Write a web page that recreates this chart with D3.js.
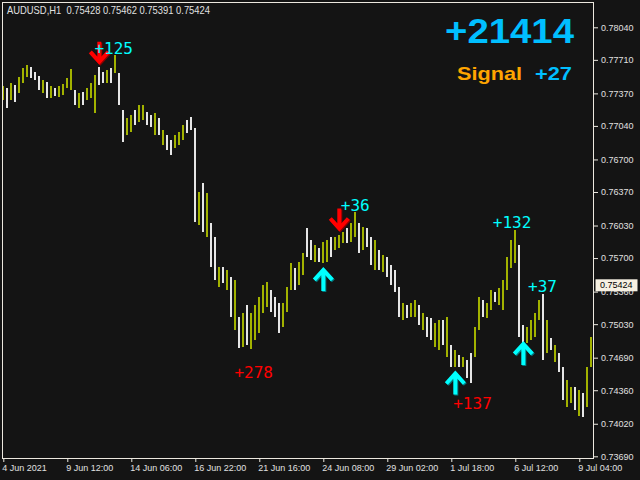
<!DOCTYPE html>
<html><head><meta charset="utf-8">
<script src="https://cdn.jsdelivr.net/npm/d3@7"></script>
<style>html,body{margin:0;padding:0;background:#141414;overflow:hidden}</style>
</head><body><svg id="c" width="640" height="480"></svg>
<script>
// ---------- data ----------
const chartTitle = "AUDUSD,H1  0.75428 0.75462 0.75391 0.75424";
const lastPrice = 0.75424;
const highs = [
0.7744,0.7742,0.7748,0.7745,0.7754,0.7763,0.7766,0.7764,0.7759,0.7755,
0.7751,0.7749,0.7744,0.7742,0.7744,0.7747,0.7753,0.7762,0.7740,0.7737,
0.7738,0.7742,0.7748,0.7756,0.7764,0.7759,0.7761,0.7763,0.7776,0.7758,
0.7720,0.7712,0.7715,0.7720,0.7725,0.7725,0.7718,0.7715,0.7717,0.7712,
0.7700,0.7695,0.7690,0.7695,0.7698,0.7705,0.7710,0.7713,0.7702,0.7637,
0.7646,0.7636,0.7606,0.7591,0.7561,0.7561,0.7558,0.7551,0.7548,0.7510,
0.7514,0.7522,0.7514,0.7522,0.7531,0.7543,0.7546,0.7538,0.7531,0.7524,
0.7524,0.7541,0.7565,0.7560,0.7566,0.7575,0.7601,0.7588,0.7583,0.7580,
0.7586,0.7588,0.7591,0.7591,0.7593,0.7596,0.7601,0.7606,0.7617,0.7606,
0.7602,0.7601,0.7591,0.7588,0.7578,0.7573,0.7571,0.7563,0.7558,0.7541,
0.7524,0.7522,0.7524,0.7527,0.7522,0.7514,0.7510,0.7509,0.7504,0.7507,
0.7507,0.7510,0.7482,0.7477,0.7472,0.7470,0.7467,0.7474,0.7500,0.7531,
0.7527,0.7524,0.7538,0.7536,0.7540,0.7548,0.7571,0.7588,0.7598,0.7583,
0.7502,0.7500,0.7507,0.7514,0.7527,0.7534,0.7507,0.7489,0.7482,0.7474,
0.7460,0.7446,0.7439,0.7439,0.7436,0.7433,0.7460,0.7490];
const lows = [
0.7730,0.7722,0.7730,0.7728,0.7737,0.7748,0.7754,0.7753,0.7751,0.7740,
0.7737,0.7732,0.7732,0.7734,0.7733,0.7735,0.7742,0.7740,0.7725,0.7722,
0.7725,0.7730,0.7732,0.7717,0.7745,0.7748,0.7748,0.7748,0.7758,0.7725,
0.7688,0.7695,0.7698,0.7705,0.7708,0.7710,0.7705,0.7703,0.7695,0.7695,
0.7685,0.7680,0.7675,0.7682,0.7685,0.7690,0.7697,0.7700,0.7607,0.7604,
0.7596,0.7591,0.7561,0.7548,0.7541,0.7545,0.7538,0.7510,0.7497,0.7479,
0.7480,0.7482,0.7478,0.7487,0.7494,0.7514,0.7520,0.7515,0.7510,0.7494,
0.7500,0.7515,0.7538,0.7538,0.7543,0.7553,0.7571,0.7568,0.7566,0.7566,
0.7565,0.7566,0.7571,0.7578,0.7580,0.7585,0.7585,0.7586,0.7591,0.7575,
0.7578,0.7581,0.7563,0.7558,0.7558,0.7556,0.7551,0.7543,0.7536,0.7510,
0.7507,0.7509,0.7510,0.7510,0.7502,0.7497,0.7490,0.7487,0.7480,0.7477,
0.7482,0.7470,0.7460,0.7460,0.7460,0.7460,0.7448,0.7443,0.7470,0.7497,
0.7510,0.7509,0.7517,0.7525,0.7522,0.7517,0.7538,0.7560,0.7565,0.7490,
0.7480,0.7484,0.7487,0.7490,0.7507,0.7467,0.7474,0.7477,0.7465,0.7454,
0.7426,0.7419,0.7423,0.7416,0.7410,0.7409,0.7419,0.7460];
// u = bullish bar, d = bearish bar
const barDir = ("udud"+"uu"+"udd"+"dud"+"uduu"+"uu"+"d"+"uduu"+"ud"+"dud"+"u"+"dd"+"uuduu"+"dd"+"u"+"dudd"+
  "uuudd"+"d"+"udu"+"ddu"+"du"+"dud"+"uduu"+"uuu"+"ddd"+"uuu"+"d"+"uud"+"dudu"+"uduuuduu"+"d"+"ud"+"dud"+
  "ud"+"ddd"+"uduu"+"dudd"+"uudu"+"dudu"+"dd"+"uu"+"duu"+"duu"+"uuu"+"d"+"du"+"uuu"+"d"+"udu"+"ddu"+"udud"+"uu").split("");

const timeLabels = ["4 Jun 2021","9 Jun 12:00","14 Jun 06:00","16 Jun 22:00","21 Jun 16:00","24 Jun 08:00","29 Jun 02:00","1 Jul 18:00","6 Jul 12:00","9 Jul 04:00"];
const timeLabelBars = [0,16,32,48,64,80,96,112,128,144];
const priceTicks = [0.7804,0.7771,0.7737,0.7704,0.7670,0.7637,0.7603,0.7570,0.7536,0.7503,0.7469,0.7436,0.7402,0.7369];

const signalBars = [24, 80, 84, 113, 130];
const signalPrices = [0.7768, 0.7559, 0.7599, 0.7454, 0.7484];
const signalTypes = ["sell","buy","sell","buy","buy"];

const profitTexts = ["+125","+36","+278","+132","+37","+137"];
const profitBars = [27.6, 88, 62.6, 127.2, 134.8, 117.3];
const profitPrices = [0.7777, 0.7618, 0.7448, 0.7600, 0.7536, 0.7417];
const profitKinds = ["win","win","loss","win","win","loss"];

const totalText = "+21414";
const signalLabel = "Signal";
const signalValue = "+27";

// ---------- drawing ----------
const W = 640, H = 480;
const svg = d3.select("#c");
const BG = "#141414", UP = "#a2b200", DOWN = "#e6e6e6", FG = "#e0e0e0";
const CYAN = "#00ffff", RED = "#ff0000", SKY = "#00bfff", ORANGE = "#ffa500";

svg.append("rect").attr("width", W).attr("height", H).attr("fill", BG);

const x = d3.scaleLinear().domain([0, 147]).range([3.3, 3.3 + 4 * 147]);
const y = d3.scaleLinear().domain([0.7369, 0.7804]).range([456.3, 27.3]);

// bars
const idx = d3.range(highs.length);
svg.append("g").selectAll("rect").data(idx).join("rect")
  .attr("x", i => Math.round(x(i) - 1))
  .attr("width", 2)
  .attr("y", i => y(highs[i]))
  .attr("height", i => Math.max(1, y(lows[i]) - y(highs[i])))
  .attr("fill", i => barDir[i] === "u" ? UP : DOWN)
  .attr("shape-rendering", "crispEdges");

// frame
svg.append("rect").attr("x", 2.5).attr("y", 2.5).attr("width", 591).attr("height", 456)
  .attr("fill", "none").attr("stroke", "#ece8df").attr("stroke-width", 1);

// y axis
const yAxis = svg.append("g").attr("transform", "translate(594,0)")
  .call(d3.axisRight(y).tickValues(priceTicks).tickSize(4).tickPadding(3).tickFormat(d3.format(".5f")));
yAxis.select(".domain").remove();
yAxis.selectAll("line").attr("stroke", "#ece8df");
yAxis.selectAll("text").attr("fill", FG).style("font-family", "'Liberation Sans', Arial, sans-serif").style("font-size", "9px");

// x axis
const xAxis = svg.append("g").attr("transform", "translate(0,459)")
  .call(d3.axisBottom(x).tickValues(timeLabelBars).tickSize(3).tickPadding(3).tickFormat((d, i) => timeLabels[i]));
xAxis.select(".domain").remove();
xAxis.selectAll("line").attr("stroke", "#ece8df");
xAxis.selectAll("text").attr("fill", FG).attr("text-anchor", "start").attr("x", -1.5)
  .style("font-family", "'Liberation Sans', Arial, sans-serif").style("font-size", "9px");

// last price tag (covers the tick label beneath it, as in the terminal)
const ly = y(lastPrice);
svg.append("rect").attr("x", 595.5).attr("y", ly - 6).attr("width", 42).attr("height", 12)
  .attr("fill", "#f6f0e2");
svg.append("text").attr("x", 600).attr("y", ly).attr("dy", "0.35em").text(d3.format(".5f")(lastPrice))
  .attr("fill", "#000").style("font-family", "'Liberation Sans', Arial, sans-serif").style("font-size", "9px");

// title
svg.append("text").attr("x", 7).attr("y", 14).text(chartTitle)
  .attr("fill", FG).attr("textLength", 203).attr("lengthAdjust", "spacingAndGlyphs")
  .style("font-family", "'Liberation Sans', Arial, sans-serif").style("font-size", "10.5px")
  .style("white-space", "pre");

// signal arrows
function arrowPath(t) {
  return t === "sell" ? "M0,-21L0,-1M-9,-11L0,-1L9,-11" : "M0,22L0,1M-9,11L0,1L9,11";
}
const ag = svg.append("g");
signalBars.forEach((b, i) => {
  const t = signalTypes[i];
  const g = ag.append("g").attr("transform", `translate(${x(b)},${y(signalPrices[i])})`);
  g.append("path").attr("d", arrowPath(t)).attr("transform", "translate(1,1)")
    .attr("fill", "none").attr("stroke", t === "sell" ? "#8a0000" : "#007a80").attr("stroke-width", 4)
    .attr("stroke-linejoin", "miter").attr("stroke-linecap", "butt");
  g.append("path").attr("d", arrowPath(t))
    .attr("fill", "none").attr("stroke", t === "sell" ? RED : CYAN).attr("stroke-width", 4)
    .attr("stroke-linejoin", "miter").attr("stroke-linecap", "butt");
});

// profit labels
svg.append("g").selectAll("text").data(profitTexts).join("text")
  .attr("x", (d, i) => x(profitBars[i]))
  .attr("y", (d, i) => y(profitPrices[i]))
  .attr("text-anchor", "middle")
  .attr("fill", (d, i) => profitKinds[i] === "win" ? CYAN : RED)
  .style("font-family", "'DejaVu Sans Mono', monospace").style("font-size", "16px")
  .text(d => d);

// summary
svg.append("text").attr("x", 445).attr("y", 43).text(totalText)
  .attr("fill", SKY).attr("textLength", 129).attr("lengthAdjust", "spacingAndGlyphs")
  .style("font-family", "'Liberation Sans', Arial, sans-serif").style("font-weight", "bold").style("font-size", "35px");
svg.append("text").attr("x", 457).attr("y", 80).text(signalLabel)
  .attr("fill", ORANGE).attr("textLength", 65).attr("lengthAdjust", "spacingAndGlyphs")
  .style("font-family", "'Liberation Sans', Arial, sans-serif").style("font-weight", "bold").style("font-size", "19px");
svg.append("text").attr("x", 535).attr("y", 80).text(signalValue)
  .attr("fill", SKY).attr("textLength", 37).attr("lengthAdjust", "spacingAndGlyphs")
  .style("font-family", "'Liberation Sans', Arial, sans-serif").style("font-weight", "bold").style("font-size", "19px");
</script></body></html>
